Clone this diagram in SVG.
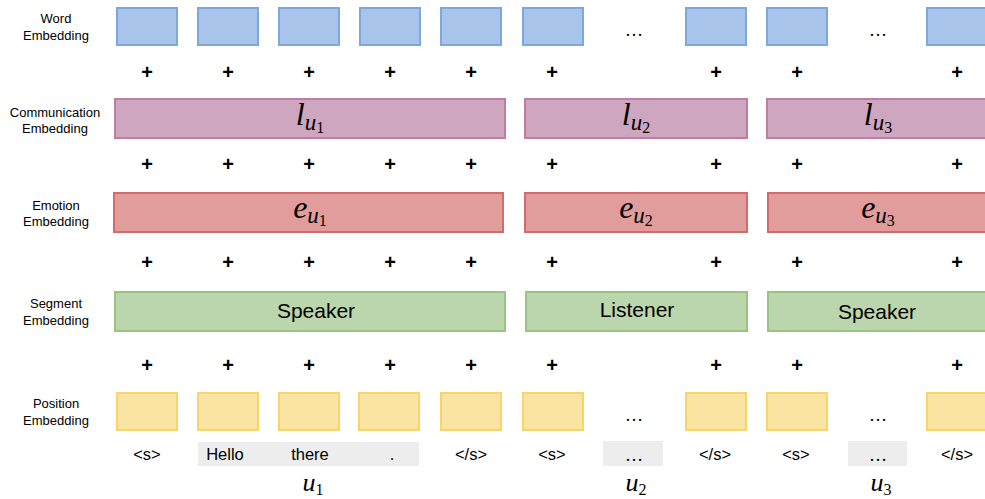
<svg xmlns="http://www.w3.org/2000/svg" width="985" height="499" viewBox="0 0 985 499">
  <style>
    .lbl { font-family: "Liberation Sans", Arial, sans-serif; font-size: 13px; fill: #000; text-anchor: middle; }
    .plus { font-family: "Liberation Sans", Arial, sans-serif; font-size: 20px; font-weight: bold; fill: #000; text-anchor: middle; }
    .tok { font-family: "Liberation Sans", Arial, sans-serif; font-size: 16.5px; fill: #000; text-anchor: middle; }
    .seg { font-family: "Liberation Sans", Arial, sans-serif; font-size: 21px; fill: #000; text-anchor: middle; }
    .math { font-family: "Liberation Serif", "DejaVu Serif", serif; font-style: italic; fill: #000; text-anchor: middle; }
    .dots { font-family: "Liberation Serif", serif; font-size: 18px; fill: #000; text-anchor: middle; }
    .word { fill: #a9c4eb; stroke: #7ea6e0; stroke-width: 2; }
    .comm { fill: #cfa6bf; stroke: #c07ca2; stroke-width: 2; }
    .emo { fill: #e09d9b; stroke: #d46a6a; stroke-width: 2; }
    .segm { fill: #bbd6ac; stroke: #97c47f; stroke-width: 2; }
    .pos { fill: #f9e4a1; stroke: #f8d56a; stroke-width: 2; }
    .grey { fill: #ededed; }
  </style>

  <!-- row labels -->
  <g id="row-labels">
    <text class="lbl" x="56" y="23">Word</text>
    <text class="lbl" x="56" y="40">Embedding</text>
    <text class="lbl" x="55" y="117">Communication</text>
    <text class="lbl" x="55" y="133">Embedding</text>
    <text class="lbl" x="56" y="210">Emotion</text>
    <text class="lbl" x="56" y="226">Embedding</text>
    <text class="lbl" x="56" y="308">Segment</text>
    <text class="lbl" x="56" y="325">Embedding</text>
    <text class="lbl" x="56" y="408">Position</text>
    <text class="lbl" x="56" y="425">Embedding</text>
  </g>

  <!-- word embedding tokens -->
  <g id="word-embedding">
    <rect class="word" x="117" y="8" width="60" height="37"/>
    <rect class="word" x="198" y="8" width="60" height="37"/>
    <rect class="word" x="279" y="8" width="60" height="37"/>
    <rect class="word" x="360" y="8" width="60" height="37"/>
    <rect class="word" x="441" y="8" width="60" height="37"/>
    <rect class="word" x="523" y="8" width="60" height="37"/>
    <text class="dots" x="634" y="36">…</text>
    <rect class="word" x="686" y="8" width="60" height="37"/>
    <rect class="word" x="767" y="8" width="60" height="37"/>
    <text class="dots" x="878" y="36">…</text>
    <rect class="word" x="927" y="8" width="62" height="37"/>
  </g>

  <!-- plus signs between rows -->
  <g id="plus-signs">
    <g transform="translate(0,79)">
      <text class="plus" x="147" y="0">+</text><text class="plus" x="228" y="0">+</text>
      <text class="plus" x="309" y="0">+</text><text class="plus" x="390" y="0">+</text>
      <text class="plus" x="471" y="0">+</text><text class="plus" x="552" y="0">+</text>
      <text class="plus" x="716" y="0">+</text><text class="plus" x="797" y="0">+</text>
      <text class="plus" x="957" y="0">+</text>
    </g>
    <g transform="translate(0,171)">
      <text class="plus" x="147" y="0">+</text><text class="plus" x="228" y="0">+</text>
      <text class="plus" x="309" y="0">+</text><text class="plus" x="390" y="0">+</text>
      <text class="plus" x="471" y="0">+</text><text class="plus" x="552" y="0">+</text>
      <text class="plus" x="716" y="0">+</text><text class="plus" x="797" y="0">+</text>
      <text class="plus" x="957" y="0">+</text>
    </g>
    <g transform="translate(0,269)">
      <text class="plus" x="147" y="0">+</text><text class="plus" x="228" y="0">+</text>
      <text class="plus" x="309" y="0">+</text><text class="plus" x="390" y="0">+</text>
      <text class="plus" x="471" y="0">+</text><text class="plus" x="552" y="0">+</text>
      <text class="plus" x="716" y="0">+</text><text class="plus" x="797" y="0">+</text>
      <text class="plus" x="957" y="0">+</text>
    </g>
    <g transform="translate(0,372)">
      <text class="plus" x="147" y="0">+</text><text class="plus" x="228" y="0">+</text>
      <text class="plus" x="309" y="0">+</text><text class="plus" x="390" y="0">+</text>
      <text class="plus" x="471" y="0">+</text><text class="plus" x="552" y="0">+</text>
      <text class="plus" x="716" y="0">+</text><text class="plus" x="797" y="0">+</text>
      <text class="plus" x="957" y="0">+</text>
    </g>
  </g>

  <!-- communication embedding -->
  <g id="communication-embedding">
    <rect class="comm" x="115" y="99" width="390" height="39"/>
    <text class="math" x="310" y="125" font-size="32">l<tspan font-size="23" dy="5">u</tspan><tspan font-size="16" font-style="normal" dy="3">1</tspan></text>
    <rect class="comm" x="525" y="99" width="222" height="39"/>
    <text class="math" x="636" y="125" font-size="32">l<tspan font-size="23" dy="5">u</tspan><tspan font-size="16" font-style="normal" dy="3">2</tspan></text>
    <rect class="comm" x="767" y="99" width="222" height="39"/>
    <text class="math" x="878" y="125" font-size="32">l<tspan font-size="23" dy="5">u</tspan><tspan font-size="16" font-style="normal" dy="3">3</tspan></text>
  </g>

  <!-- emotion embedding -->
  <g id="emotion-embedding">
    <rect class="emo" x="114" y="193" width="389" height="39"/>
    <text class="math" x="310" y="218" font-size="32">e<tspan font-size="23" dy="5">u</tspan><tspan font-size="16" font-style="normal" dy="3">1</tspan></text>
    <rect class="emo" x="525" y="193" width="222" height="39"/>
    <text class="math" x="636" y="218" font-size="32">e<tspan font-size="23" dy="5">u</tspan><tspan font-size="16" font-style="normal" dy="3">2</tspan></text>
    <rect class="emo" x="768" y="193" width="221" height="39"/>
    <text class="math" x="878" y="218" font-size="32">e<tspan font-size="23" dy="5">u</tspan><tspan font-size="16" font-style="normal" dy="3">3</tspan></text>
  </g>

  <!-- segment embedding -->
  <g id="segment-embedding">
    <rect class="segm" x="115" y="292" width="390" height="39"/>
    <text class="seg" x="316" y="318">Speaker</text>
    <rect class="segm" x="526" y="292" width="221" height="39"/>
    <text class="seg" x="637" y="317">Listener</text>
    <rect class="segm" x="768" y="292" width="221" height="39"/>
    <text class="seg" x="877" y="319">Speaker</text>
  </g>

  <!-- position embedding -->
  <g id="position-embedding">
    <rect class="pos" x="117" y="393" width="60" height="37"/>
    <rect class="pos" x="198" y="393" width="60" height="37"/>
    <rect class="pos" x="279" y="393" width="60" height="37"/>
    <rect class="pos" x="359" y="393" width="60" height="37"/>
    <rect class="pos" x="441" y="393" width="60" height="37"/>
    <rect class="pos" x="523" y="393" width="60" height="37"/>
    <text class="dots" x="634" y="421">…</text>
    <rect class="pos" x="686" y="393" width="60" height="37"/>
    <rect class="pos" x="767" y="393" width="60" height="37"/>
    <text class="dots" x="878" y="421">…</text>
    <rect class="pos" x="927" y="393" width="62" height="37"/>
  </g>

  <!-- input tokens -->
  <g id="tokens">
    <rect class="grey" x="198" y="442" width="221" height="24"/>
    <rect class="grey" x="603" y="441" width="60" height="25"/>
    <rect class="grey" x="848" y="441" width="59" height="25"/>
    <text class="tok" x="147" y="460">&lt;s&gt;</text>
    <text class="tok" x="225" y="460">Hello</text>
    <text class="tok" x="310" y="460">there</text>
    <text class="tok" x="392" y="460">.</text>
    <text class="tok" x="471" y="460">&lt;/s&gt;</text>
    <text class="tok" x="552" y="460">&lt;s&gt;</text>
    <text class="dots" x="634" y="461">…</text>
    <text class="tok" x="715" y="460">&lt;/s&gt;</text>
    <text class="tok" x="796" y="460">&lt;s&gt;</text>
    <text class="dots" x="878" y="461">…</text>
    <text class="tok" x="957" y="460">&lt;/s&gt;</text>
  </g>

  <!-- utterance labels -->
  <g id="utterances">
    <text class="math" x="313" y="491" font-size="26">u<tspan font-size="16" font-style="normal" dy="4">1</tspan></text>
    <text class="math" x="636" y="491" font-size="26">u<tspan font-size="16" font-style="normal" dy="4">2</tspan></text>
    <text class="math" x="881" y="491" font-size="26">u<tspan font-size="16" font-style="normal" dy="4">3</tspan></text>
  </g>
</svg>
